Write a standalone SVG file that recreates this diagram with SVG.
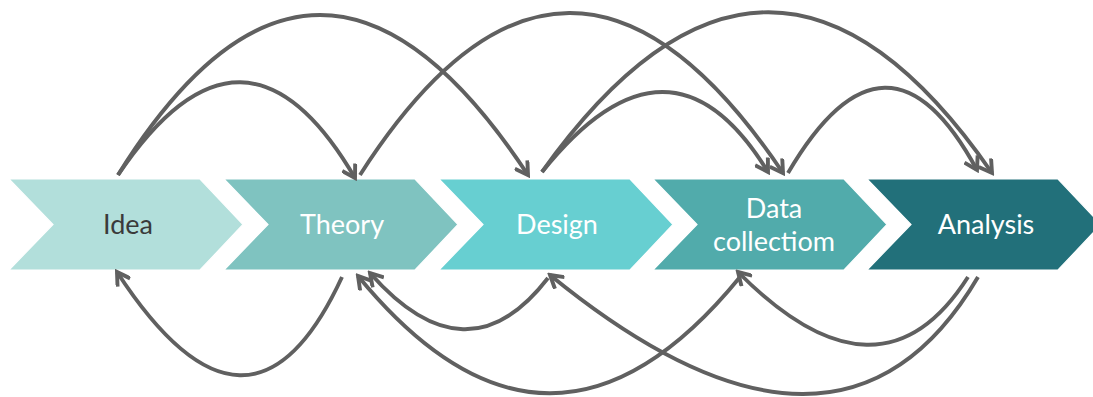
<svg xmlns="http://www.w3.org/2000/svg" width="1093" height="397" viewBox="0 0 1093 397">
  <style>
    .step { stroke: #ffffff; stroke-width: 1.2; }
    .label { font-family: "Lato", "Liberation Sans", sans-serif; font-size: 27px; text-anchor: middle; fill: #ffffff; }
    .label.dark { fill: #3a3a3a; }
    .link { fill: none; stroke: #606060; stroke-width: 3.9; stroke-linecap: butt; }
    .end { marker-end: url(#open-arrow); }
  </style>
  <defs>
    <!-- open V arrowhead drawn with two strokes -->
    <marker id="open-arrow" viewBox="0 0 17 17" refX="14" refY="8.5" markerWidth="17" markerHeight="17" markerUnits="userSpaceOnUse" orient="auto">
      <path d="M1.5,1 L14,8.5 L1.5,16" fill="none" stroke="#606060" stroke-width="3.9" stroke-linejoin="miter"/>
    </marker>
    <!-- chevron outline, placed by x/y -->
    <path id="chevron" d="M0,0 L191,0 L234,45.5 L191,91 L0,91 L44,45.5 Z"/>
  </defs>

  <!-- process steps -->
  <g id="idea">
    <use href="#chevron" class="step" x="9" y="179" fill="#b2dfdb"/>
    <text class="label dark" x="128" y="234">Idea</text>
  </g>
  <g id="theory">
    <use href="#chevron" class="step" x="224" y="179" fill="#7fc3c0"/>
    <text class="label" x="342" y="234">Theory</text>
  </g>
  <g id="design">
    <use href="#chevron" class="step" x="439" y="179" fill="#67cfd1"/>
    <text class="label" x="557" y="234">Design</text>
  </g>
  <g id="data-collection">
    <use href="#chevron" class="step" x="653" y="179" fill="#51abab"/>
    <text class="label" x="774" y="218">Data</text>
    <text class="label" x="774" y="251">collectiom</text>
  </g>
  <g id="analysis">
    <use href="#chevron" class="step" x="867" y="179" fill="#22707a"/>
    <text class="label" x="986" y="234">Analysis</text>
  </g>

  <!-- feedback and skip loops (parabolic arcs) -->
  <g id="connectors">
    <!-- forward arcs above the steps -->
    <path class="link end" d="M118,175 Q244,-12 355,178"/>
    <path class="link end" d="M118,175 Q317,-145 528,175"/>
    <path class="link end" d="M360,175 Q567,-148 783,173"/>
    <path class="link end" d="M542,172 Q670,12 768,172"/>
    <path class="link end" d="M542,172 Q770,-148 992,173"/>
    <path class="link end" d="M788,173 Q887,4 977,170"/>
    <!-- backward arcs below the steps -->
    <path class="link end" d="M342,277 Q250,476 117,272"/>
    <path class="link end" d="M548,278 Q467,383 370,273"/>
    <path class="link end" d="M740,277 Q550,510 358,276"/>
    <path class="link end" d="M968,277 Q880,415 738,272"/>
    <path class="link end" d="M978,277 Q840,512 550,275"/>
  </g>
</svg>
